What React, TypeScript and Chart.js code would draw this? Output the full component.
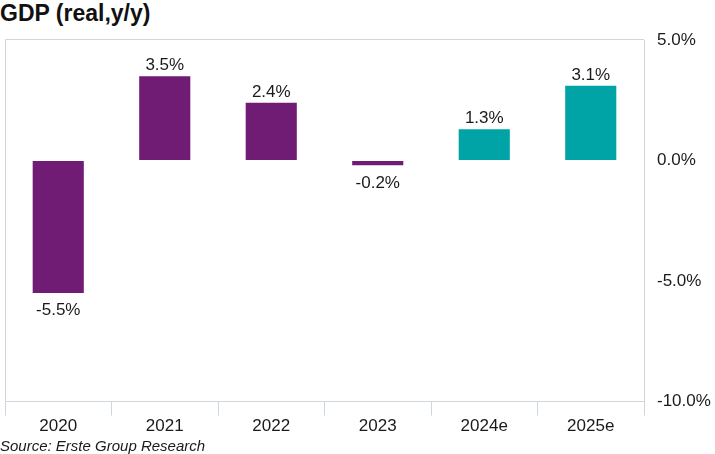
import React, { useEffect, useRef } from "react";
import { Chart, registerables } from "chart.js";

Chart.register(...registerables);

const categories = ["2020", "2021", "2022", "2023", "2024e", "2025e"];
const gdpValues = [-5.5, 3.5, 2.4, -0.2, 1.3, 3.1];
const barColors = ["#711C74", "#711C74", "#711C74", "#711C74", "#00A3A6", "#00A3A6"];
const yTicks = [-10, -5, 0, 5];

const FONT = "'Liberation Sans', Arial, sans-serif";

const framePlugin = {
  id: "frame",
  afterDraw(chart: any) {
    const { ctx, chartArea } = chart;
    ctx.save();
    ctx.strokeStyle = "#d0d6de";
    ctx.lineWidth = 1;
    ctx.beginPath();
    ctx.moveTo(chartArea.left + 0.5, chartArea.bottom);
    ctx.lineTo(chartArea.left + 0.5, chartArea.top - 0.5);
    ctx.lineTo(chartArea.right, chartArea.top - 0.5);
    ctx.stroke();
    ctx.restore();
  },
};

const labelPlugin = {
  id: "valueLabels",
  afterDatasetsDraw(chart: any) {
    const { ctx } = chart;
    const meta = chart.getDatasetMeta(0);
    ctx.save();
    ctx.font = `17px ${FONT}`;
    ctx.fillStyle = "#1a1a1a";
    ctx.textAlign = "center";
    meta.data.forEach((bar: any, i: number) => {
      const v = gdpValues[i];
      const txt = v.toFixed(1) + "%";
      if (v >= 0) {
        ctx.textBaseline = "bottom";
        ctx.fillText(txt, bar.x, bar.y - 2);
      } else {
        ctx.textBaseline = "top";
        ctx.fillText(txt, bar.x, bar.y + 9);
      }
    });
    ctx.restore();
  },
};

export default function App() {
  const ref = useRef<HTMLCanvasElement>(null);
  useEffect(() => {
    document.body.style.margin = "0";
    const chart = new Chart(ref.current!, {
      type: "bar",
      data: {
        labels: categories,
        datasets: [
          {
            data: gdpValues,
            backgroundColor: barColors,
            barPercentage: 1,
            categoryPercentage: 0.48,
          },
        ],
      },
      options: {
        animation: false,
        responsive: false,
        layout: { padding: { top: 40, left: 5, right: 3, bottom: 16 } },
        plugins: { legend: { display: false }, tooltip: { enabled: false } },
        scales: {
          x: {
            offset: true,
            grid: {
              offset: true,
              drawOnChartArea: false,
              drawTicks: true,
              tickLength: 14,
              color: "#d0d6de",
            },
            border: { display: true, color: "#d0d6de" },
            ticks: { color: "#1a1a1a", font: { size: 17, family: FONT }, padding: 1 },
          },
          y: {
            position: "right",
            min: -10,
            max: 5,
            afterBuildTicks(axis: any) {
              axis.ticks = yTicks.map((v) => ({ value: v }));
            },
            afterFit(axis: any) {
              axis.width = 68;
            },
            grid: { drawOnChartArea: false, drawTicks: false },
            border: { display: true, color: "#d0d6de" },
            ticks: {
              color: "#1a1a1a",
              font: { size: 17, family: FONT },
              padding: 13,
              callback: (v: any) => Number(v).toFixed(1) + "%",
            },
          },
        },
      },
      plugins: [framePlugin, labelPlugin],
    });
    return () => chart.destroy();
  }, []);
  return (
    <div style={{ position: "relative", width: 715, height: 454, background: "#fff" }}>
      <div
        style={{
          position: "absolute",
          left: 0,
          top: 0,
          font: `bold 23px ${FONT}`,
          color: "#111",
        }}
      >
        GDP (real,y/y)
      </div>
      <canvas ref={ref} width={715} height={454} style={{ position: "absolute", left: 0, top: 0 }} />
      <div
        style={{
          position: "absolute",
          left: 0,
          top: 437,
          font: `italic 15px ${FONT}`,
          color: "#1a1a1a",
        }}
      >
        Source: Erste Group Research
      </div>
    </div>
  );
}
